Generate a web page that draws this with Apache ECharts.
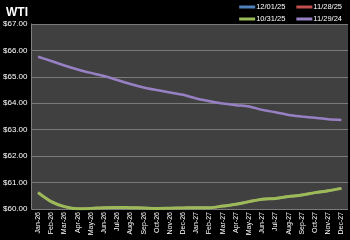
<!DOCTYPE html>
<html>
<head>
<meta charset="utf-8">
<script src="https://cdn.jsdelivr.net/npm/echarts@6/dist/echarts.min.js"></script>
<style>
  html, body { margin: 0; padding: 0; background: #000; }
  #chart { width: 350px; height: 240px; }
</style>
</head>
<body>
<div id="chart"></div>
<script>
const months = ['Jan-26', 'Feb-26', 'Mar-26', 'Apr-26', 'May-26', 'Jun-26', 'Jul-26', 'Aug-26',
    'Sep-26', 'Oct-26', 'Nov-26', 'Dec-26', 'Jan-27', 'Feb-27', 'Mar-27', 'Apr-27',
    'May-27', 'Jun-27', 'Jul-27', 'Aug-27', 'Sep-27', 'Oct-27', 'Nov-27', 'Dec-27'];

// 12/01/25 and 11/28/25 sit under the 10/31/25 curve
const curve120125 = [60.62, 60.28, 60.09, 60.01, 60.02, 60.05, 60.06, 60.05, 60.04, 60.02, 60.03, 60.04,
    60.05, 60.05, 60.11, 60.18, 60.28, 60.37, 60.40, 60.47, 60.53, 60.62, 60.69, 60.78];
const curve112825 = [60.62, 60.28, 60.09, 60.01, 60.02, 60.05, 60.06, 60.05, 60.04, 60.02, 60.03, 60.04,
    60.05, 60.05, 60.11, 60.18, 60.28, 60.37, 60.40, 60.47, 60.53, 60.62, 60.69, 60.78];
const curve103125 = [60.62, 60.28, 60.09, 60.01, 60.02, 60.05, 60.06, 60.05, 60.04, 60.02, 60.03, 60.04,
    60.05, 60.05, 60.11, 60.18, 60.28, 60.37, 60.40, 60.47, 60.53, 60.62, 60.69, 60.78];
const curve112924 = [65.76, 65.60, 65.43, 65.28, 65.15, 65.03, 64.88, 64.73, 64.60, 64.50, 64.41, 64.32,
    64.18, 64.08, 63.99, 63.93, 63.88, 63.75, 63.66, 63.56, 63.50, 63.45, 63.40, 63.37];

const font = 'Liberation Sans';
const chart = echarts.init(document.getElementById('chart'));

const mkLine = (name, data, color, z, width) => ({
    name,
    type: 'line',
    data,
    smooth: 0.3,
    symbol: 'none',
    z,
    lineStyle: { color, width },
    itemStyle: { color },
});

const legendBase = {
    right: 8,
    padding: 0,
    itemWidth: 16,
    itemHeight: 3,
    itemGap: 11,
    icon: 'rect',
    textStyle: { color: '#fff', fontSize: 7.5, fontFamily: font, padding: [0, 0, 0, -4] },
};

chart.setOption({
    backgroundColor: '#000',
    animation: false,
    title: {
        text: 'WTI',
        left: 1,
        top: 2,
        textStyle: { color: '#fff', fontSize: 12, fontWeight: 'bold', fontFamily: font },
    },
    legend: [
        Object.assign({}, legendBase, { top: 3, data: ['12/01/25', '11/28/25'] }),
        Object.assign({}, legendBase, { top: 15, data: ['10/31/25', '11/29/24'] }),
    ],
    grid: {
        left: 31,
        right: 2,
        top: 24,
        bottom: 31,
        show: true,
        backgroundColor: '#404040',
        borderWidth: 0,
    },
    xAxis: {
        type: 'category',
        data: months,
        boundaryGap: true,
        axisLine: { show: false },
        axisTick: { show: false },
        axisLabel: {
            color: '#fff',
            fontSize: 7,
            rotate: 90,
            interval: 0,
            margin: 3,
            fontFamily: font,
        },
    },
    yAxis: {
        type: 'value',
        min: 60,
        max: 67,
        interval: 1,
        axisLine: { show: true, lineStyle: { color: '#808080' } },
        axisTick: { show: false },
        splitLine: { lineStyle: { color: '#7a7a7a', width: 1 } },
        axisLabel: {
            color: '#fff',
            fontSize: 8,
            margin: 4,
            fontFamily: font,
            formatter: v => '$' + v.toFixed(2),
        },
    },
    series: [
        mkLine('12/01/25', curve120125, '#4f81bd', 2, 2.5),
        mkLine('11/28/25', curve112825, '#c0504d', 3, 2.5),
        mkLine('10/31/25', curve103125, '#9bbb59', 4, 3),
        mkLine('11/29/24', curve112924, '#9880c4', 5, 2.5),
    ],
});
</script>
</body>
</html>
